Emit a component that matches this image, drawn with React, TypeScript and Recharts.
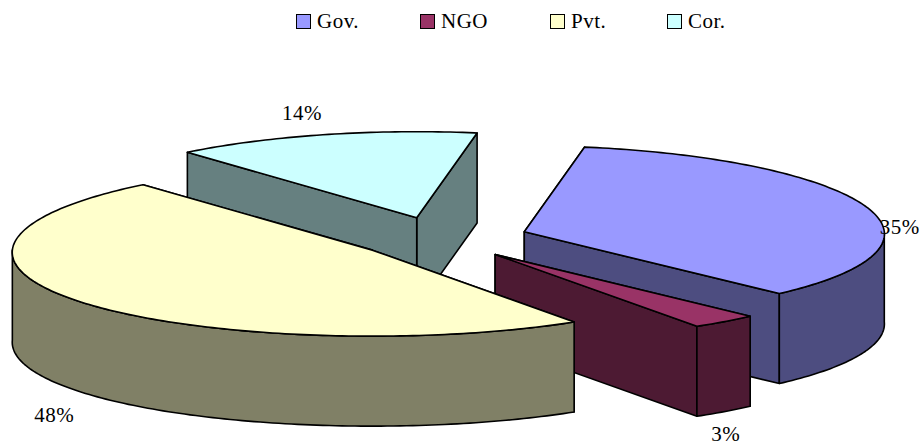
import { PieChart, Pie, Legend } from 'recharts';

const LEGEND_NAMES = ['Gov.', 'NGO', 'Pvt.', 'Cor.'];
const LEGEND_VALUES: Record<string, number> = { 'Gov.': 35, NGO: 3, 'Pvt.': 48, 'Cor.': 14 };
// drawn back to front, so Pvt. ends up over Cor. and NGO
const DRAW_ORDER = ['Cor.', 'Gov.', 'NGO', 'Pvt.'];

const TOP_COLORS: Record<string, string> = { 'Gov.': '#9999ff', NGO: '#993366', 'Pvt.': '#ffffcc', 'Cor.': '#ccffff' };
const SIDE_COLORS: Record<string, string> = { 'Gov.': '#4d4d80', NGO: '#4d1a33', 'Pvt.': '#808066', 'Cor.': '#668080' };
const LEGEND_LEFT: Record<string, number> = { 'Gov.': 296, NGO: 420, 'Pvt.': 550, 'Cor.': 667 };
const LABEL_NUDGE: Record<string, [number, number]> = { 'Gov.': [34, 20], NGO: [1, 112], 'Pvt.': [-26, 113], 'Cor.': [-22, -22] };
const EXPLODE: Record<string, number> = { 'Gov.': 0.245, NGO: 0.245, 'Pvt.': 0.235, 'Cor.': 0.245 };

const TILT = 86 / 360;
const DEPTH = 90;
const PERSPECTIVE = 0.025;
const FONT = '"Liberation Serif", serif';

const rows = DRAW_ORDER.map(name => ({ name, value: LEGEND_VALUES[name], fill: TOP_COLORS[name] }));

const rad = (deg: number) => (deg * Math.PI) / 180;

// flatten a point of the round pie onto the tilted plane, with the slice pulled out along its middle.
// the near side comes out slightly wider than the far side
function project(cx: number, cy: number, r: number, name: string, midAngle: number, angle: number) {
  const ox = cx + EXPLODE[name] * r * Math.cos(rad(midAngle));
  const oy = cy - EXPLODE[name] * r * TILT * Math.sin(rad(midAngle));
  const widen = 1 - PERSPECTIVE * Math.sin(rad(angle));
  return {
    ox,
    oy,
    x: ox + r * Math.cos(rad(angle)) * widen,
    y: oy - r * TILT * Math.sin(rad(angle)),
  };
}

function Slice3D(props: any) {
  const { cx, cy, outerRadius: r, startAngle, endAngle, midAngle, name } = props;

  const arc = (from: number, to: number) => {
    const pts = [];
    for (let t = from; t > to; t -= 1) pts.push(project(cx, cy, r, name, midAngle, t));
    pts.push(project(cx, cy, r, name, midAngle, to));
    return pts;
  };

  const a = project(cx, cy, r, name, midAngle, startAngle);
  const b = project(cx, cy, r, name, midAngle, endAngle);
  const { ox, oy } = a;
  const top = `M${ox},${oy} ` + arc(startAngle, endAngle).map(p => `L${p.x},${p.y}`).join(' ') + ' Z';

  const wall = (p: { x: number; y: number }) =>
    `M${ox},${oy} L${p.x},${p.y} L${p.x},${p.y + DEPTH} L${ox},${oy + DEPTH} Z`;
  const radial = a.y < b.y ? [a, b] : [b, a];

  // the rim is only seen on the front half of the ellipse
  const from = Math.max(Math.min(startAngle, 0), -180);
  const to = Math.max(endAngle, -180);
  let rim = '';
  if (from > to) {
    const edge = arc(from, to);
    const lower = [...edge].reverse().map(p => `L${p.x},${p.y + DEPTH}`);
    rim = 'M' + edge.map(p => `${p.x},${p.y}`).join(' L') + ' ' + lower.join(' ') + ' Z';
  }

  const line = { stroke: '#000', strokeWidth: 1.6, strokeLinejoin: 'round' as const };
  return (
    <g>
      {radial.map((p, i) => (
        <path key={i} d={wall(p)} fill={SIDE_COLORS[name]} {...line} />
      ))}
      {rim && <path d={rim} fill={SIDE_COLORS[name]} {...line} />}
      <path d={top} fill={TOP_COLORS[name]} {...line} />
    </g>
  );
}

function SliceLabel(props: any) {
  const { cx, cy, outerRadius: r, midAngle, name, value } = props;
  const p = project(cx, cy, r, name, midAngle, midAngle);
  const [dx, dy] = LABEL_NUDGE[name];
  return (
    <text x={p.x + dx} y={p.y + dy} textAnchor="middle" dominantBaseline="central" fontFamily={FONT} fontSize={21} letterSpacing={0.5} fill="#000">
      {value}%
    </text>
  );
}

function LegendRow() {
  return (
    <div style={{ position: 'relative', height: 40, fontFamily: FONT, fontSize: 21, letterSpacing: 0.5, color: '#000' }}>
      {LEGEND_NAMES.map(name => (
        <div key={name} style={{ position: 'absolute', left: LEGEND_LEFT[name], top: 9, display: 'flex', alignItems: 'center', lineHeight: '24px' }}>
          <span style={{ width: 13, height: 13, border: '1.5px solid #000', background: TOP_COLORS[name], marginRight: 6, display: 'inline-block' }} />
          {name}
        </div>
      ))}
    </div>
  );
}

export default function App() {
  return (
    <div style={{ position: 'absolute', left: 0, top: 0, width: 921, height: 441, overflow: 'hidden', background: '#fff' }}>
      <PieChart width={921} height={441} margin={{ top: 0, right: 0, bottom: 0, left: 0 }}>
        <Legend
          verticalAlign="top"
          content={<LegendRow />}
          wrapperStyle={{ position: 'absolute', left: 0, top: 0, width: 921 }}
        />
        <Pie
          data={rows}
          dataKey="value"
          nameKey="name"
          cx={440}
          cy={198}
          innerRadius={0}
          outerRadius={360}
          startAngle={130.5}
          endAngle={-229.5}
          stroke="none"
          shape={Slice3D}
          label={SliceLabel}
          labelLine={false}
          isAnimationActive={false}
        />
      </PieChart>
    </div>
  );
}
